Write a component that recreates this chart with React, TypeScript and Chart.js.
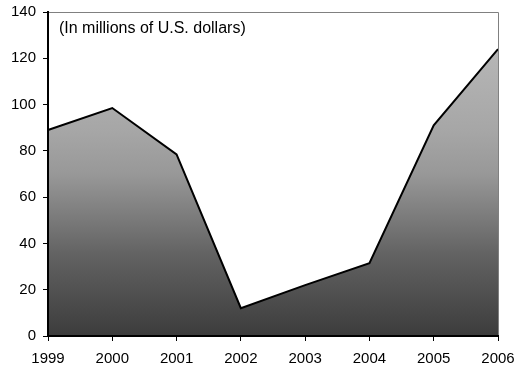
import React, { useEffect, useRef } from "react";
import { Chart, registerables } from "chart.js";

Chart.register(...registerables);

const years = ["1999", "2000", "2001", "2002", "2003", "2004", "2005", "2006"];
const values = [89, 98.5, 78.5, 12, 22, 31.5, 91, 124];
const yTicks = [0, 20, 40, 60, 80, 100, 120, 140];
const noteText = "(In millions of U.S. dollars)";

const FONT = "'Liberation Sans', Arial, sans-serif";

const framePlugin = {
  id: "frame",
  afterDatasetsDraw(chart: any) {
    const { ctx, chartArea } = chart;
    const { left, right, top, bottom } = chartArea;
    ctx.save();
    ctx.strokeStyle = "#808080";
    ctx.lineWidth = 1;
    ctx.beginPath();
    ctx.moveTo(left, top + 0.5);
    ctx.lineTo(right + 0.5, top + 0.5);
    ctx.lineTo(right + 0.5, bottom);
    ctx.stroke();
    ctx.strokeStyle = "#000";
    ctx.lineWidth = 2;
    ctx.beginPath();
    ctx.moveTo(left, top);
    ctx.lineTo(left, bottom);
    ctx.lineTo(right + 1, bottom);
    ctx.stroke();
    ctx.fillStyle = "#000";
    ctx.font = "16px " + FONT;
    ctx.textBaseline = "middle";
    ctx.textAlign = "left";
    ctx.fillText(noteText, left + 11, top + 17);
    ctx.restore();
  },
};

export default function App() {
  const ref = useRef<HTMLCanvasElement>(null);
  useEffect(() => {
    const canvas = ref.current!;
    const chart = new Chart(canvas, {
      type: "line",
      data: {
        labels: years,
        datasets: [
          {
            data: values,
            borderColor: "#000",
            borderWidth: 2,
            pointRadius: 0,
            tension: 0,
            fill: "origin",
            backgroundColor: (c: any) => {
              const ca = c.chart.chartArea;
              if (!ca) return "#888";
              const g = c.chart.ctx.createLinearGradient(0, ca.top, 0, ca.bottom);
              g.addColorStop(0, "#c0c0c0");
              g.addColorStop(0.12, "#b6b6b6");
              g.addColorStop(0.37, "#a6a6a6");
              g.addColorStop(0.5, "#989898");
              g.addColorStop(0.75, "#626262");
              g.addColorStop(1, "#3c3c3c");
              return g;
            },
          },
        ],
      },
      options: {
        animation: false,
        responsive: false,
        layout: { padding: { top: 12, right: 21, left: 0, bottom: 0 } },
        plugins: { legend: { display: false }, tooltip: { enabled: false }, title: { display: false } },
        scales: {
          x: {
            offset: false,
            grid: { display: true, drawOnChartArea: false, drawTicks: true, tickLength: 5, color: "#000", lineWidth: 1 },
            border: { display: true, color: "#000", width: 2 },
            ticks: { color: "#000", font: { family: FONT, size: 15 }, padding: 9, maxRotation: 0, autoSkip: false },
            afterFit: (s: any) => {
              s.height = 36;
              s.paddingLeft = 0;
              s.paddingRight = 0;
            },
          },
          y: {
            min: 0,
            max: 140,
            afterBuildTicks: (s: any) => { s.ticks = yTicks.map((v) => ({ value: v })); },
            grid: { display: true, drawOnChartArea: false, drawTicks: true, tickLength: 5, color: "#000", lineWidth: 1 },
            border: { display: true, color: "#000", width: 2 },
            ticks: { color: "#000", font: { family: FONT, size: 15 }, padding: 7 },
            afterFit: (s: any) => {
              s.width = 48;
              s.paddingTop = 0;
              s.paddingBottom = 0;
            },
          },
        },
      },
      plugins: [framePlugin],
    });
    return () => chart.destroy();
  }, []);
  return (
    <div style={{ position: "fixed", left: 0, top: 0, width: 519, height: 372, background: "#fff" }}>
      <canvas ref={ref} width={519} height={372} style={{ display: "block" }} />
    </div>
  );
}
